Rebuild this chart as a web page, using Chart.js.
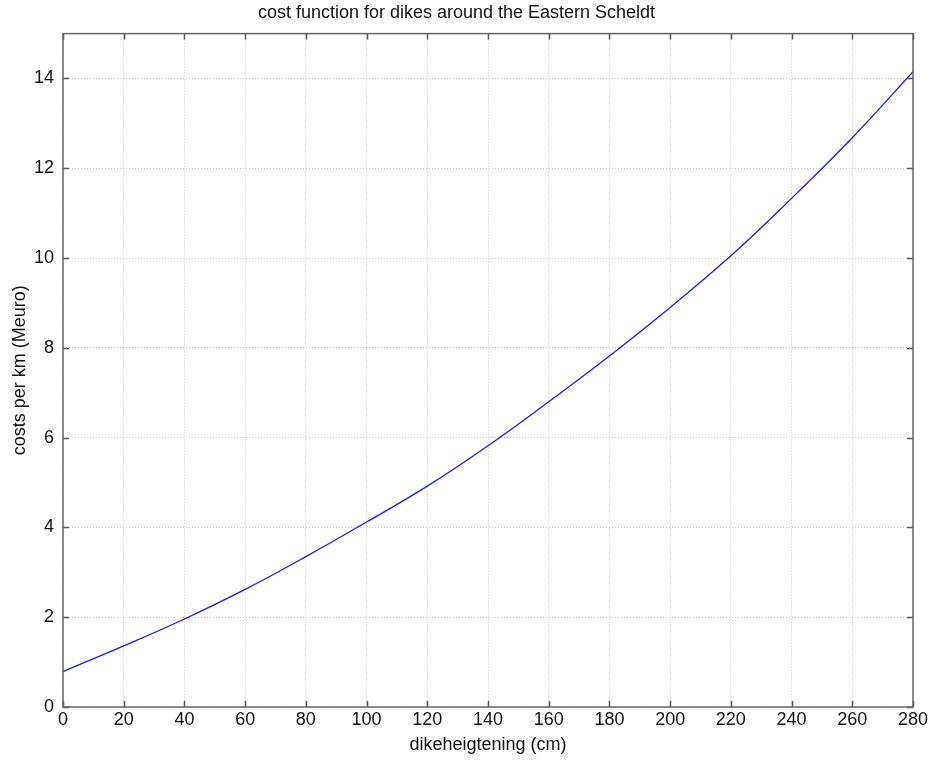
<!DOCTYPE html>
<html>
<head>
<meta charset="utf-8">
<script src="https://cdn.jsdelivr.net/npm/chart.js@4/dist/chart.umd.min.js"></script>
<style>
  html, body { margin: 0; padding: 0; background: #fff; }
  #chart { display: block; }
</style>
</head>
<body>
<canvas id="chart" width="932" height="762"></canvas>
<script>
// dike heightening (cm) and cost per km (Meuro)
const heights = [0, 20, 40, 60, 80, 100, 120, 140, 160, 180, 200, 220, 240, 260, 280];
const costs = [0.79, 1.36, 1.96, 2.62, 3.35, 4.12, 4.92, 5.82, 6.80, 7.82, 8.90, 10.05, 11.33, 12.68, 14.15];

const xTicks = [0, 20, 40, 60, 80, 100, 120, 140, 160, 180, 200, 220, 240, 260, 280];
const yTicks = [0, 2, 4, 6, 8, 10, 12, 14];

const FONT = "'Liberation Sans', Arial, Helvetica, sans-serif";

// matlab-like box with ticks pointing inward on all four sides
const boxPlugin = {
  id: 'box',
  afterDraw(chart) {
    const {ctx, chartArea: a, scales} = chart;
    const len = 6;
    ctx.save();
    ctx.strokeStyle = '#555';
    ctx.lineWidth = 1.5;
    ctx.beginPath();
    xTicks.forEach(v => {
      const px = Math.round(scales.x.getPixelForValue(v)) + 0.5;
      ctx.moveTo(px, a.bottom); ctx.lineTo(px, a.bottom - len);
      ctx.moveTo(px, a.top); ctx.lineTo(px, a.top + len);
    });
    yTicks.forEach(v => {
      const py = Math.round(scales.y.getPixelForValue(v)) + 0.5;
      ctx.moveTo(a.left, py); ctx.lineTo(a.left + len, py);
      ctx.moveTo(a.right, py); ctx.lineTo(a.right - len, py);
    });
    ctx.stroke();
    ctx.strokeStyle = '#666';
    ctx.strokeRect(a.left, a.top, a.right - a.left, a.bottom - a.top);
    ctx.restore();
  }
};

new Chart(document.getElementById('chart'), {
  type: 'line',
  data: {
    datasets: [{
      data: heights.map((h, i) => ({x: h, y: costs[i]})),
      borderColor: '#1a1aff',
      borderWidth: 1.3,
      pointRadius: 0,
      fill: false,
      tension: 0.4
    }]
  },
  options: {
    responsive: false,
    animation: false,
    layout: { padding: { left: 0, right: 19, top: 0, bottom: 0 } },
    plugins: {
      legend: { display: false },
      tooltip: { enabled: false },
      title: {
        display: true,
        text: 'cost function for dikes around the Eastern Scheldt',
        color: '#111',
        font: { family: FONT, size: 18, weight: 'normal', lineHeight: 1.2 },
        padding: { top: 2, bottom: 10 }
      }
    },
    scales: {
      x: {
        type: 'linear',
        min: 0,
        max: 280,
        afterFit(scale) { scale.height = 55; },
        ticks: {
          stepSize: 20,
          color: '#111',
          padding: 2,
          maxRotation: 0,
          font: { family: FONT, size: 18 }
        },
        grid: { color: '#c8c8c8', lineWidth: 1, drawTicks: false },
        border: { display: false, dash: [1, 2] },
        title: {
          display: true,
          text: 'dikeheigtening (cm)',
          color: '#111',
          font: { family: FONT, size: 18, lineHeight: 1.2 },
          padding: { top: 0, bottom: 6 }
        }
      },
      y: {
        type: 'linear',
        min: 0,
        max: 15,
        afterFit(scale) { scale.width = 63; },
        ticks: {
          stepSize: 2,
          includeBounds: false,
          color: '#111',
          padding: 9,
          font: { family: FONT, size: 18 }
        },
        grid: { color: '#c8c8c8', lineWidth: 1, drawTicks: false },
        border: { display: false, dash: [1, 2] },
        title: {
          display: true,
          text: 'costs per km (Meuro)',
          color: '#111',
          font: { family: FONT, size: 18, lineHeight: 1.2 },
          padding: { top: 9, bottom: 0 }
        }
      }
    }
  },
  plugins: [boxPlugin]
});
</script>
</body>
</html>
